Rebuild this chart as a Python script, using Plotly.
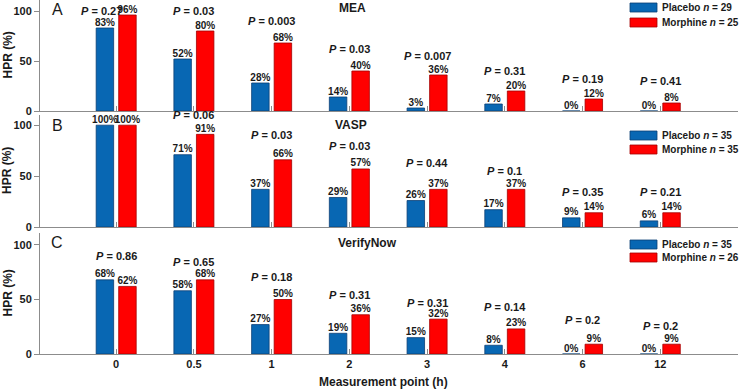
import plotly.graph_objects as go

categories = ["0", "0.5", "1", "2", "3", "4", "6", "12"]

mea_placebo = [83, 52, 28, 14, 3, 7, 0, 0]
mea_morphine = [96, 80, 68, 40, 36, 20, 12, 8]
mea_p = ["0.27", "0.03", "0.003", "0.03", "0.007", "0.31", "0.19", "0.41"]

vasp_placebo = [100, 71, 37, 29, 26, 17, 9, 6]
vasp_morphine = [100, 91, 66, 57, 37, 37, 14, 14]
vasp_p = [None, "0.06", "0.03", "0.03", "0.44", "0.1", "0.35", "0.21"]

vn_placebo = [68, 58, 27, 19, 15, 8, 0, 0]
vn_morphine = [62, 68, 50, 36, 32, 23, 9, 9]
vn_p = ["0.86", "0.65", "0.18", "0.31", "0.31", "0.14", "0.2", "0.2"]

panel_titles = ["MEA", "VASP", "VerifyNow"]
panel_letters = ["A", "B", "C"]
n_placebo = [29, 35, 35]
n_morphine = [25, 35, 26]

# label heights (layout positions for the P-value annotations, in axis units)
p_label_y = [
    [100, 100, 90, 62, 55, 40, 32, 30],
    [0, 110, 90, 80, 63, 55, 34, 34],
    [90, 84, 71, 54, 47, 43, 31, 26],
]

FONT = "Liberation Sans, Arial, sans-serif"
TXT = "#1a1a1a"
AX = "#8c8c8c"
BLUE = "#0867b3"
RED = "#ff0000"

H_PLOT = 354.0
W_PLOT = 698.0
L = 40


def py(px):
    return (H_PLOT - px) / H_PLOT


def px_x(px):
    return (px - L) / W_PLOT


panels = [
    (mea_placebo, mea_morphine, mea_p),
    (vasp_placebo, vasp_morphine, vasp_p),
    (vn_placebo, vn_morphine, vn_p),
]
domains = [[py(111), 1.0], [py(227), py(115)], [0.0, py(233)]]
yranges = [[0, 111], [0, 110], [0, 111]]

fig = go.Figure()
annotations = []
shapes = []

for i, (plac, morph, pv) in enumerate(panels):
    xa = "x" if i == 0 else f"x{i+1}"
    ya = "y" if i == 0 else f"y{i+1}"
    for vals, name, col, lc in [(plac, "Placebo", BLUE, "#0b3f75"), (morph, "Morphine", RED, "#a30000")]:
        fig.add_trace(go.Bar(
            x=categories, y=vals, name=name, xaxis=xa, yaxis=ya,
            marker=dict(color=col, line=dict(color=lc, width=0.8)),
            showlegend=False, hoverinfo="skip",
        ))
    for vals, name in [(plac, "Placebo"), (morph, "Morphine")]:
        fig.add_trace(go.Scatter(
            x=categories, y=vals, name=name + " labels", xaxis=xa, yaxis=ya,
            mode="text", text=[f"<b>{v}%</b>" for v in vals],
            textposition="top center",
            textfont=dict(family=FONT, size=10, color=TXT),
            cliponaxis=False, showlegend=False, hoverinfo="skip",
        ))
    for j, p in enumerate(pv):
        if p is None:
            continue
        annotations.append(dict(
            x=j, y=p_label_y[i][j], xref=xa, yref=ya,
            text=f"<b><i>P</i> = {p}</b>", showarrow=False,
            xanchor="center", yanchor="middle",
            xshift=-15 if (i == 0 and j == 0) else 0,
            font=dict(family=FONT, size=11, color=TXT),
        ))

    fig.update_layout(**{
        ("xaxis" if i == 0 else f"xaxis{i+1}"): dict(
            type="category", range=[-0.98, 8.0], anchor=ya, domain=[0, 1],
            showline=True, linecolor=AX, linewidth=1,
            ticks="inside", ticklen=5, tickcolor=AX, tickwidth=1,
            tickvals=categories, ticktext=[f"<b>{c}</b>" for c in categories],
            showticklabels=(i == 2), showgrid=False, zeroline=False,
            tickfont=dict(family=FONT, size=11, color=TXT),
        ),
        ("yaxis" if i == 0 else f"yaxis{i+1}"): dict(
            domain=domains[i], range=yranges[i], anchor=xa,
            showline=True, linecolor=AX, linewidth=1,
            ticks="outside", ticklen=5, tickcolor=AX, tickwidth=1,
            tickvals=[0, 50, 100], ticktext=["<b>0</b>", "<b>50</b>", "<b>100</b>"],
            showgrid=False, zeroline=False,
            tickfont=dict(family=FONT, size=11, color=TXT),
        ),
    })

# y titles, panel letters, titles
title_pos = [(352, 8), (351, 125), (367, 243)]
letter_y = [10, 125, 242]
ytitle_center = [(0 + 111) / 2, (115 + 227) / 2, (233 + 354) / 2]
for i in range(3):
    annotations.append(dict(
        x=px_x(7), y=py(ytitle_center[i]), xref="paper", yref="paper",
        xanchor="center", yanchor="middle",
        text="<b>HPR (%)</b>", textangle=-90, showarrow=False,
        font=dict(family=FONT, size=12, color=TXT),
    ))
    annotations.append(dict(
        x=px_x(57), y=py(letter_y[i]), xref="paper", yref="paper",
        xanchor="center", yanchor="middle",
        text=panel_letters[i], showarrow=False,
        font=dict(family=FONT, size=16, color=TXT),
    ))
    tx, ty = title_pos[i]
    annotations.append(dict(
        x=px_x(tx), y=py(ty), xref="paper", yref="paper",
        xanchor="center", yanchor="middle",
        text=f"<b>{panel_titles[i]}</b>", showarrow=False,
        font=dict(family=FONT, size=12, color=TXT),
    ))

# custom legends
legend_rows = [(7.5, 22.5), (135.5, 149.5), (244.5, 257.5)]
for i in range(3):
    for (cy, col, lc, label) in [
        (legend_rows[i][0], BLUE, "#0b3f75", f"Placebo <i>n</i> = {n_placebo[i]}"),
        (legend_rows[i][1], RED, "#a30000", f"Morphine <i>n</i> = {n_morphine[i]}"),
    ]:
        shapes.append(dict(
            type="rect", xref="paper", yref="paper",
            x0=px_x(630), x1=px_x(657), y0=py(cy + 4.5), y1=py(cy - 4.5),
            fillcolor=col, line=dict(color=lc, width=0.8),
        ))
        annotations.append(dict(
            x=px_x(660), y=py(cy), xref="paper", yref="paper",
            xanchor="left", yanchor="middle", text=f"<b>{label}</b>",
            showarrow=False, font=dict(family=FONT, size=10, color=TXT),
        ))

annotations.append(dict(
    x=px_x(383), y=py(382), xref="paper", yref="paper",
    xanchor="center", yanchor="middle",
    text="<b>Measurement point (h)</b>", showarrow=False,
    font=dict(family=FONT, size=12, color=TXT),
))

fig.update_layout(
    width=739, height=389,
    margin=dict(l=L, r=1, t=0, b=35),
    barmode="group", bargap=0.42, bargroupgap=0.224,
    scattermode="group", scattergap=0.42,
    plot_bgcolor="white", paper_bgcolor="white",
    font=dict(family=FONT, color=TXT),
    annotations=annotations, shapes=shapes,
)

fig.write_html(
    "out.html",
    config={"displayModeBar": False},
    post_script="document.body.style.margin='0';document.body.style.overflow='hidden';",
)
